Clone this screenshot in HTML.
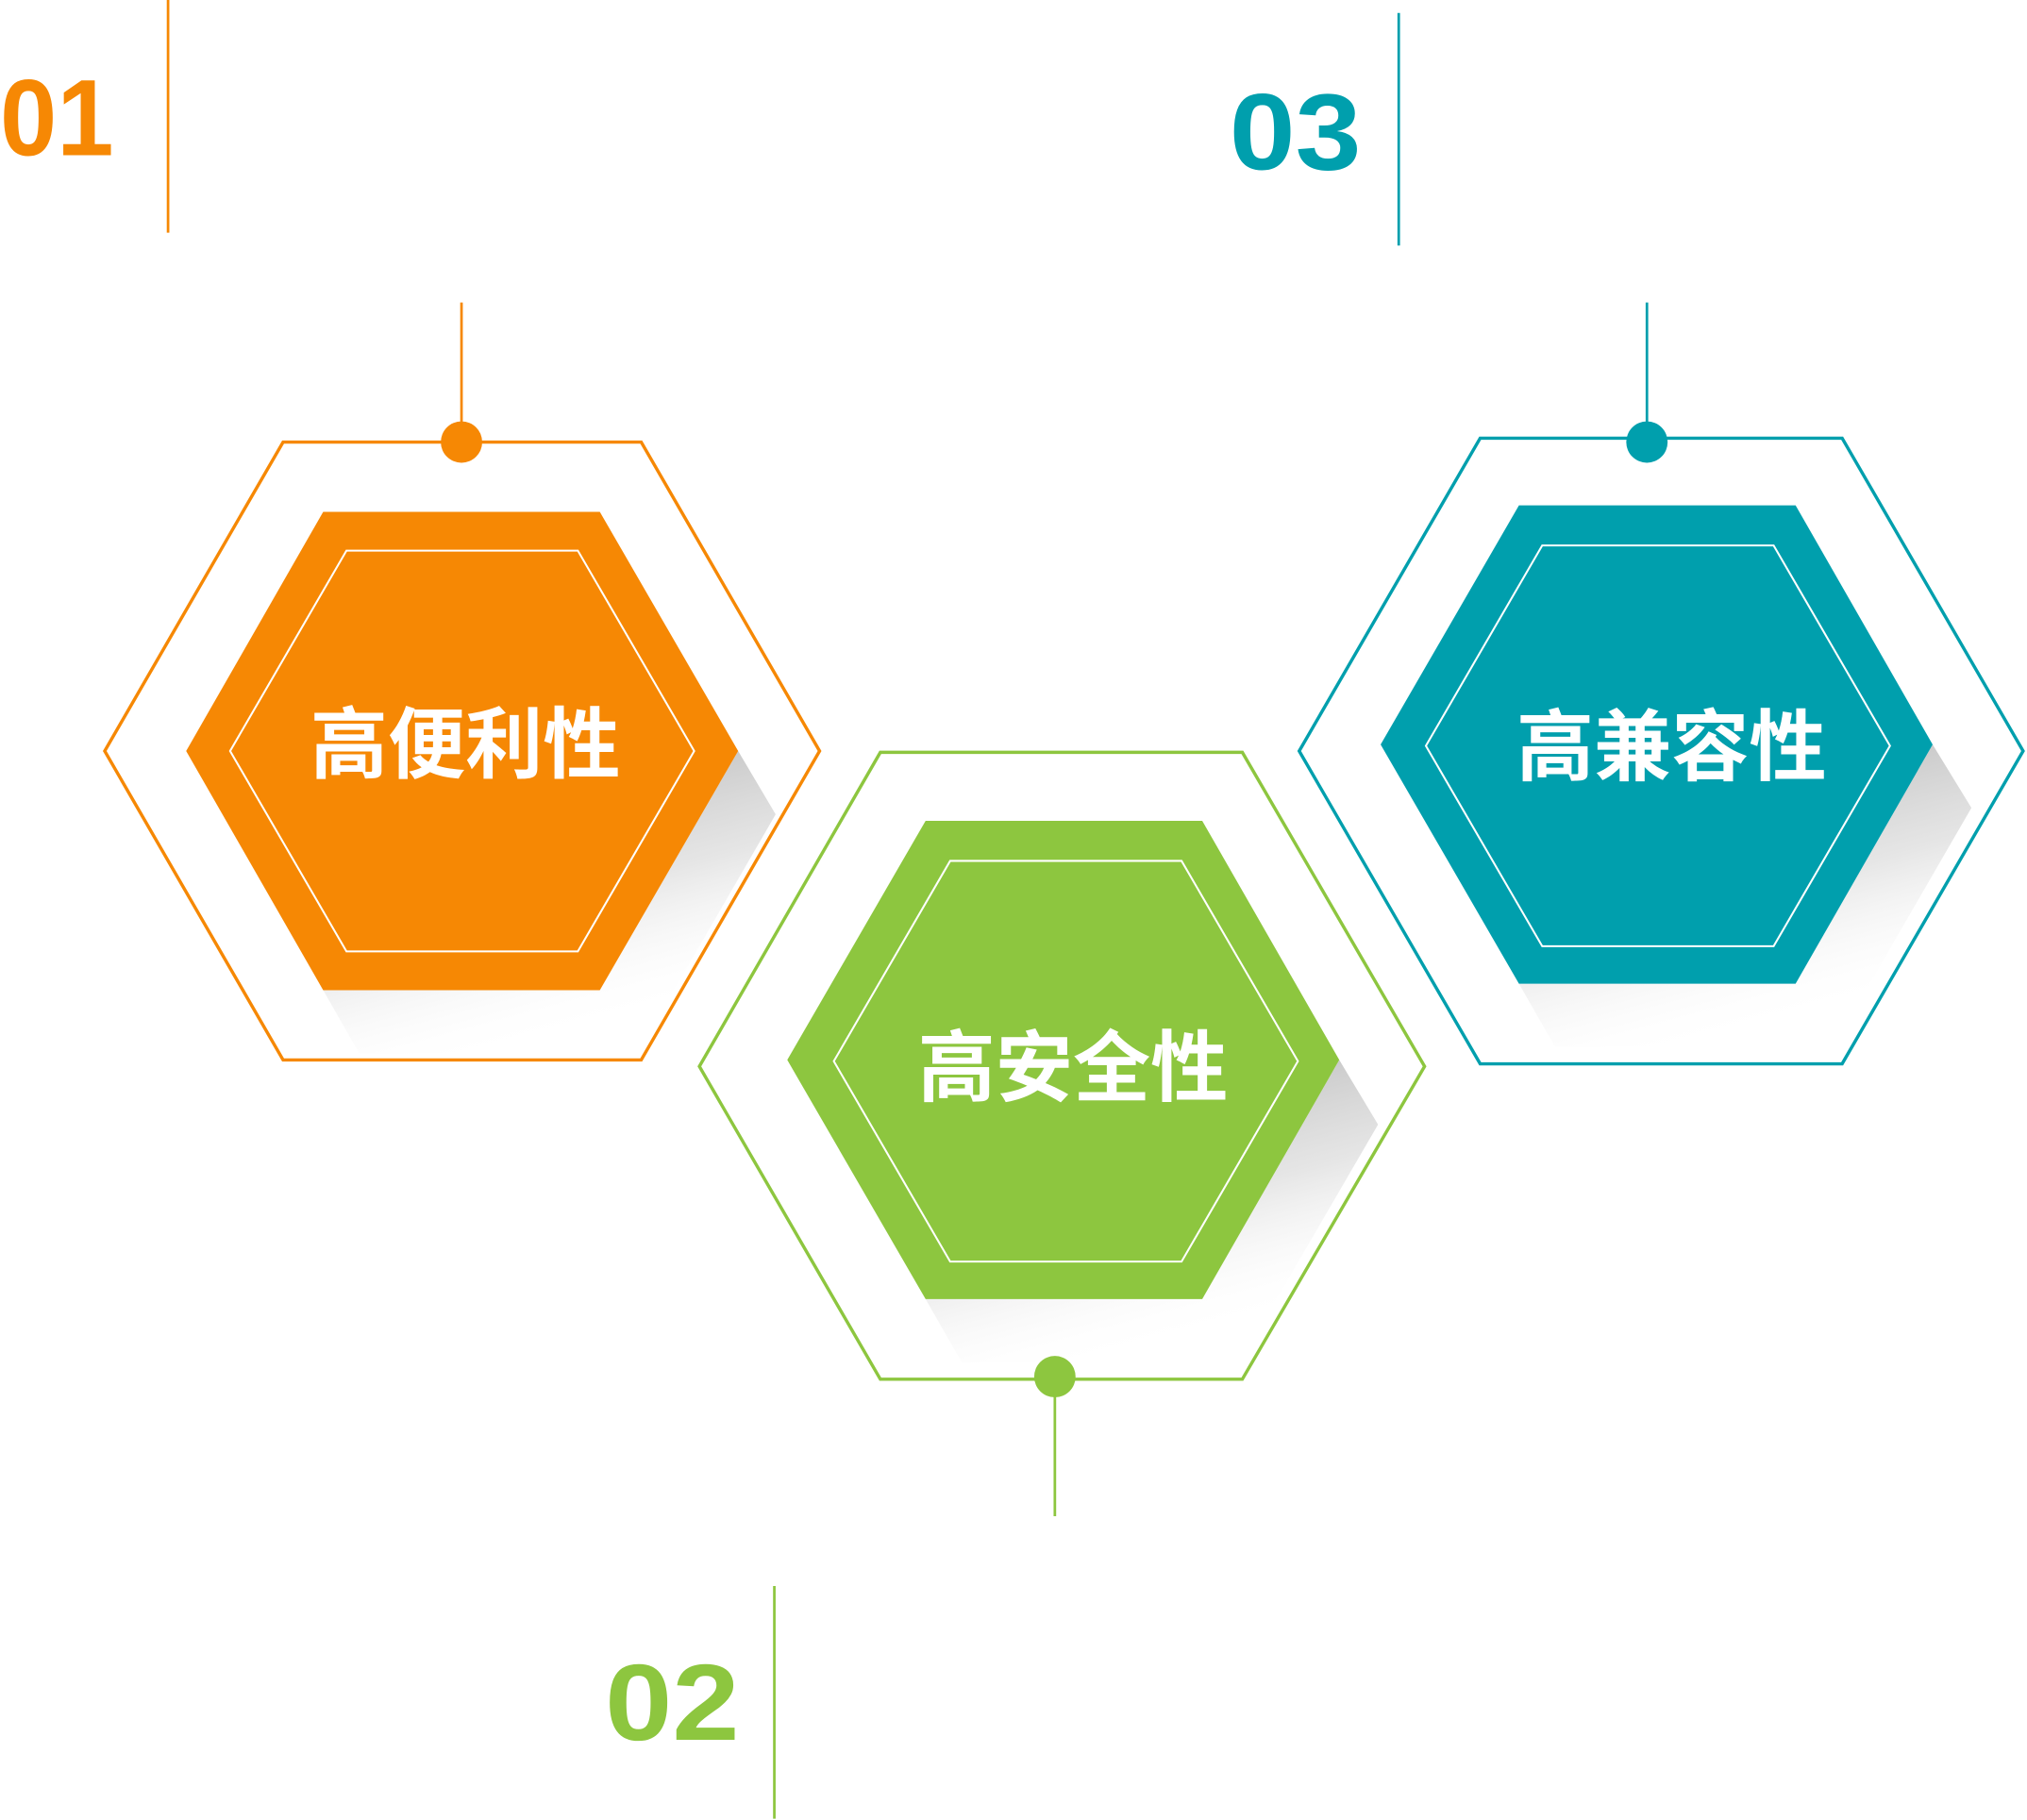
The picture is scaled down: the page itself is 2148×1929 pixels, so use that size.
<!DOCTYPE html>
<html><head><meta charset="utf-8"><style>
html,body{margin:0;padding:0;background:#fff;}
svg{display:block;}
text{font-family:"Liberation Sans","Noto Sans CJK SC",sans-serif;font-weight:bold;}
</style></head><body>
<svg width="2148" height="1929" viewBox="0 0 1568 1408" preserveAspectRatio="none" xmlns="http://www.w3.org/2000/svg">
<defs>
<linearGradient id="sh" x1="0" y1="0" x2="0.4" y2="1">
<stop offset="0" stop-color="#999" stop-opacity="0.9"/>
<stop offset="0.6" stop-color="#ccc" stop-opacity="0.5"/>
<stop offset="1" stop-color="#fff" stop-opacity="0"/>
</linearGradient>
</defs>
<!-- Hex 1 -->
<polygon points="250,766 278,815 493,815 600,630 571,581 464,766" fill="url(#sh)"/>
<polygon points="219,342 496,342 634,581 496,820 219,820 81,581" fill="none" stroke="#f68804" stroke-width="2.5"/>
<polygon points="250,396 464,396 571,581 464,766 250,766 144,581" fill="#f68804"/>
<polygon points="268,426 447,426 537,581 447,736 268,736 178,581" fill="none" stroke="#fff" stroke-width="1.5"/>
<line x1="357" y1="234" x2="357" y2="330" stroke="#f68804" stroke-width="2"/>
<circle cx="357" cy="342" r="16" fill="#f68804"/>
<text x="360" y="597" font-size="60" fill="#fff" text-anchor="middle">高便利性</text>
<text x="0" y="120" font-size="84" fill="#f68804" textLength="88" lengthAdjust="spacingAndGlyphs">01</text>
<line x1="130" y1="0" x2="130" y2="180" stroke="#f68804" stroke-width="2"/>
<!-- Hex 3 -->
<polygon points="1175,761 1203,810 1418,810 1525,625 1495,576 1389,761" fill="url(#sh)"/>
<polygon points="1145,339 1425,339 1565,581 1425,823 1145,823 1005,581" fill="none" stroke="#009fad" stroke-width="2.5"/>
<polygon points="1175,391 1389,391 1495,576 1389,761 1175,761 1068,576" fill="#009fad"/>
<polygon points="1193,422 1372,422 1462,577 1372,732 1193,732 1103,577" fill="none" stroke="#fff" stroke-width="1.5"/>
<line x1="1274" y1="234" x2="1274" y2="330" stroke="#009fad" stroke-width="2"/>
<circle cx="1274" cy="342" r="16" fill="#009fad"/>
<text x="1293" y="599" font-size="60" fill="#fff" text-anchor="middle">高兼容性</text>
<text x="951" y="131" font-size="84" fill="#009fad" textLength="102" lengthAdjust="spacingAndGlyphs">03</text>
<line x1="1082" y1="10" x2="1082" y2="190" stroke="#009fad" stroke-width="2"/>
<!-- Hex 2 -->
<polygon points="716,1005 744,1054 959,1054 1066,870 1036,820 930,1005" fill="url(#sh)"/>
<polygon points="681,582 961,582 1102,825 961,1067 681,1067 541,825" fill="none" stroke="#8dc63f" stroke-width="2.5"/>
<polygon points="716,635 930,635 1036,820 930,1005 716,1005 609,820" fill="#8dc63f"/>
<polygon points="735,666 914,666 1004,821 914,976 735,976 645,821" fill="none" stroke="#fff" stroke-width="1.5"/>
<circle cx="816" cy="1065" r="16" fill="#8dc63f"/>
<line x1="816" y1="1075" x2="816" y2="1173" stroke="#8dc63f" stroke-width="2"/>
<text x="830" y="847" font-size="60" fill="#fff" text-anchor="middle">高安全性</text>
<text x="468" y="1346" font-size="84" fill="#8dc63f" textLength="104" lengthAdjust="spacingAndGlyphs">02</text>
<line x1="599" y1="1227" x2="599" y2="1407" stroke="#8dc63f" stroke-width="2"/>
</svg>
</body></html>
